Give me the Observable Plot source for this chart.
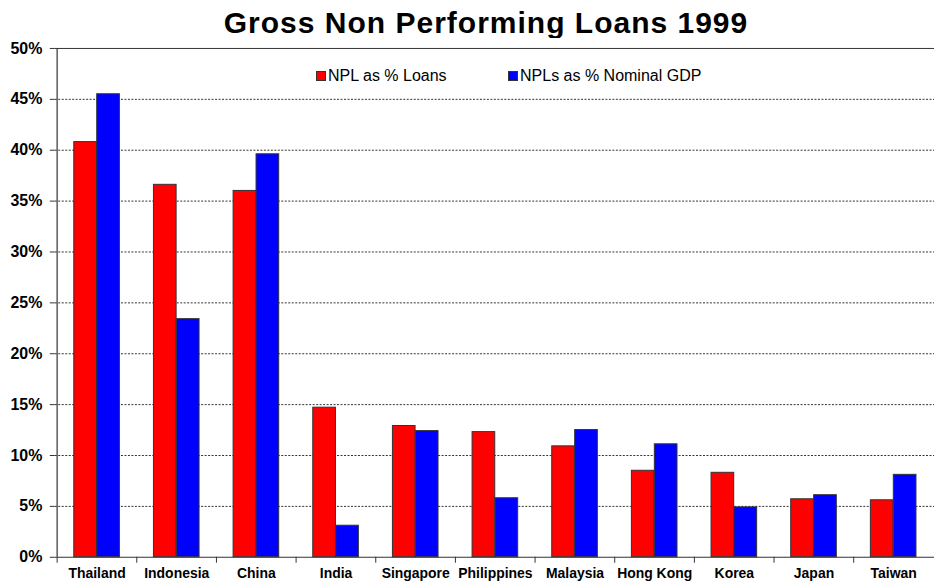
<!DOCTYPE html>
<html>
<head>
<meta charset="utf-8">
<script src="https://cdn.jsdelivr.net/npm/d3@7"></script>
<script src="https://cdn.jsdelivr.net/npm/@observablehq/plot@0.6"></script>
<style>
  html, body { margin: 0; padding: 0; background: #fff; overflow: hidden; width: 934px; height: 582px; }
  body { position: relative; font-family: "Liberation Sans", Arial, sans-serif; }
  #title { position: absolute; left: 486px; top: 8px; transform: translateX(-50%); white-space: nowrap;
           font-size: 30px; line-height: 30px; font-weight: bold; color: #000; letter-spacing: 1px; }
  #chart { position: absolute; left: 0; top: 38px; }
  #chart svg { display: block; }
  #legend { position: absolute; top: 68px; left: 0; font-size: 16px; line-height: 16px; color: #000; }
  .item { position: absolute; white-space: nowrap; }
  .sw { display: inline-block; width: 8px; height: 8px; border: 1px solid #333; margin-right: 2px; vertical-align: 0px; }
</style>
</head>
<body>
<div id="title"></div>
<div id="chart"></div>
<div id="legend"></div>
<script>
const title = "Gross Non Performing Loans 1999";
const countries = ["Thailand", "Indonesia", "China", "India", "Singapore", "Philippines", "Malaysia", "Hong Kong", "Korea", "Japan", "Taiwan"];
const seriesNames = ["NPL as % Loans", "NPLs as % Nominal GDP"];
const nplLoans = [40.8, 36.6, 36.0, 14.7, 12.9, 12.3, 10.9, 8.5, 8.3, 5.7, 5.6];
const nplGDP   = [45.5, 23.4, 39.6, 3.1, 12.4, 5.8, 12.5, 11.1, 4.9, 6.1, 8.1];
const seriesColors = ["#FF0000", "#0000FF"];
const yTicks = [0, 5, 10, 15, 20, 25, 30, 35, 40, 45, 50];
const gridTicks = [5, 10, 15, 20, 25, 30, 35, 40, 45];

document.getElementById("title").textContent = title;

const data = [];
countries.forEach((c, i) => {
  data.push({country: c, series: seriesNames[0], value: nplLoans[i]});
  data.push({country: c, series: seriesNames[1], value: nplGDP[i]});
});

const W = 938, marginLeft = 55, marginRight = 0;
const step = (W - marginLeft - marginRight) / countries.length;
const barW = step * 0.287;
const gap = (step - 2 * barW) / 2;

const chart = Plot.plot({
  width: W,
  height: 544,
  marginLeft, marginRight,
  marginTop: 10,
  marginBottom: 23,
  style: {fontFamily: "'Liberation Sans', Arial, sans-serif", color: "#000", background: "#fff", overflow: "visible"},
  x: {domain: countries, padding: 0},
  y: {domain: [0, 50]},
  marks: [
    Plot.gridY(gridTicks, {stroke: "#333", strokeOpacity: 1, strokeDasharray: "2,1.5", strokeWidth: 1}),
    Plot.ruleY([50], {stroke: "#333", strokeWidth: 1}),
    Plot.barY(data.filter(d => d.series === seriesNames[0]), {
      x: "country", y: "value", fill: seriesColors[0], stroke: "#333", strokeWidth: 1,
      insetLeft: gap, insetRight: gap + barW
    }),
    Plot.barY(data.filter(d => d.series === seriesNames[1]), {
      x: "country", y: "value", fill: seriesColors[1], stroke: "#333", strokeWidth: 1,
      insetLeft: gap + barW, insetRight: gap
    }),
    Plot.ruleY([0], {stroke: "#333", strokeWidth: 1.2}),
    Plot.ruleX([countries[0]], {dx: -step / 2, stroke: "#333", strokeWidth: 1.2}),
    Plot.axisY({ticks: yTicks, tickFormat: d => d + "%", tickSize: 5, tickPadding: 8,
      fontSize: 16, fontWeight: "bold", label: null, stroke: "#333"}),
    Plot.axisX({tickSize: 0, tickPadding: 11, fontSize: 14, fontWeight: "bold", label: null}),
    Plot.axisX({tickSize: 6, tickFormat: () => "", dx: -step / 2, label: null, stroke: "#333"})
  ]
});
document.getElementById("chart").appendChild(chart);

const legend = document.getElementById("legend");
const lefts = [316, 508];
seriesNames.forEach((s, i) => {
  const it = document.createElement("div");
  it.className = "item";
  it.style.left = lefts[i] + "px";
  const sw = document.createElement("span");
  sw.className = "sw";
  sw.style.background = seriesColors[i];
  it.appendChild(sw);
  it.appendChild(document.createTextNode(s));
  legend.appendChild(it);
});
</script>
</body>
</html>
